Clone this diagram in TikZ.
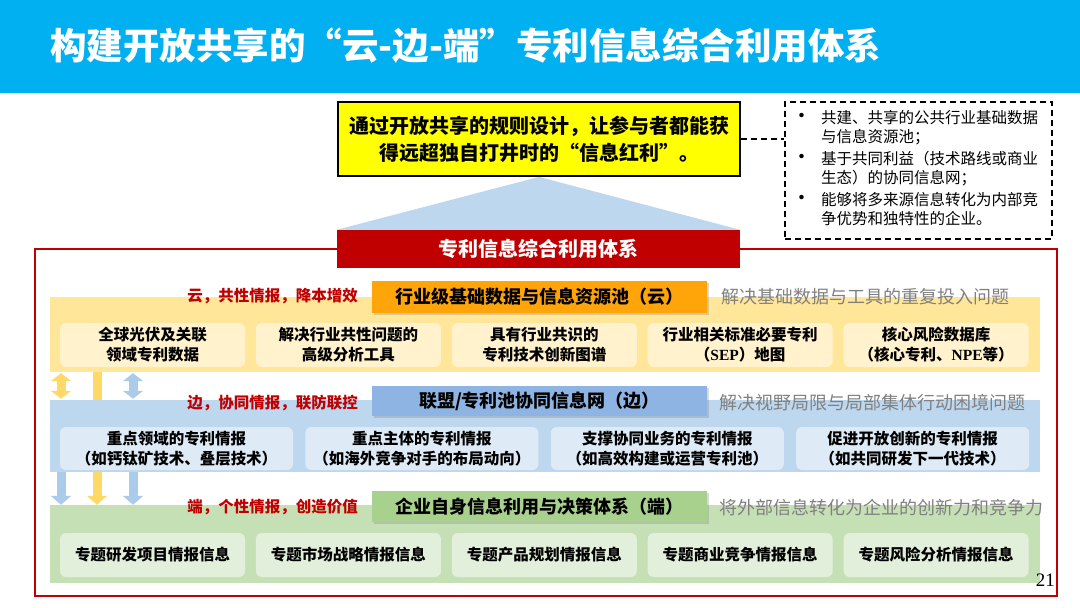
\documentclass[tikz,border=0pt]{standalone}
\usepackage{fontspec}
\setmainfont{Noto Sans CJK SC}
\newfontfamily\latinserif{Liberation Serif}
\usepackage{tikz}
\usetikzlibrary{arrows.meta,positioning,shadows}
\usepackage{xcolor}
\definecolor{titleblue}{RGB}{0,176,240}
\definecolor{bannerred}{RGB}{192,0,0}
\definecolor{goalyellow}{RGB}{255,255,0}
\definecolor{pyramidblue}{RGB}{189,215,238}
\definecolor{cloudfill}{RGB}{255,230,153}
\definecolor{cloudhead}{RGB}{255,165,10}
\definecolor{clouditem}{RGB}{255,242,204}
\definecolor{edgefill}{RGB}{189,215,238}
\definecolor{edgehead}{RGB}{141,180,226}
\definecolor{edgeitem}{RGB}{222,235,247}
\definecolor{endfill}{RGB}{197,224,180}
\definecolor{endhead}{RGB}{169,209,142}
\definecolor{enditem}{RGB}{226,239,218}
\definecolor{hintgray}{RGB}{128,128,128}
\definecolor{arrowgold}{RGB}{255,217,102}
\definecolor{arrowblue}{RGB}{170,203,234}

\begin{document}
\begin{tikzpicture}[x=1pt, y=-1pt,
    band/.style={minimum width=990pt, inner sep=0},
    headbox/.style={minimum width=335pt, inner sep=0, font=\fontsize{18}{22}\selectfont\bfseries,
        drop shadow={shadow xshift=2pt, shadow yshift=-2pt, opacity=0.3}},
    tagtext/.style={anchor=east, inner sep=0, text=bannerred, font=\fontsize{15.5}{18}\selectfont\bfseries},
    hinttext/.style={anchor=west, inner sep=0, text=hintgray, font=\fontsize{18}{22}\selectfont},
    itembox/.style={rounded corners=6pt, minimum height=44pt, inner sep=0, align=center,
        font=\fontsize{15.5}{20}\selectfont\bfseries},
    longdash/.style={line width=1.5pt, dash pattern=on 6pt off 4pt},
    fatarr/.style={line width=9pt, -{Triangle[length=9pt, width=20pt]}},
    fatdouble/.style={line width=9pt, {Triangle[length=8pt, width=20pt]}-{Triangle[length=8pt, width=20pt]}}
]
\useasboundingbox (0,0) rectangle (1080,608);

\node[fill=titleblue, minimum width=1080pt, minimum height=93pt, inner sep=0] (bar) at (540,46.5) {};
\node[anchor=west, inner sep=0, text=white, font=\fontsize{36.5}{40}\selectfont\bfseries] (title) at (50,46)
    {构建开放共享的“云-边-端”专利信息综合利用体系};

\node[draw, line width=1.8pt, fill=goalyellow, minimum width=402pt, minimum height=74pt, align=center,
    font=\fontsize{20}{27}\selectfont\bfseries] (goal) at (539,139)
    {通过开放共享的规则设计，让参与者都能获\\得远超独自打井时的“信息红利”。};
\node[draw, longdash, minimum width=267pt, minimum height=137pt, inner sep=0,
    font=\fontsize{15.5}{19}\selectfont] (note) at (918.5,170.5)
    {\begin{tabular}{@{}l@{}l@{}}
    \makebox[22pt][l]{\hspace{-8pt}\fontsize{21}{19}\selectfont •} & 共建、共享的公共行业基础数据\\
     & 与信息资源池；\\[3pt]
    \makebox[22pt][l]{\hspace{-8pt}\fontsize{21}{19}\selectfont •} & 基于共同利益（技术路线或商业\\
     & 生态）的协同信息网；\\[3pt]
    \makebox[22pt][l]{\hspace{-8pt}\fontsize{21}{19}\selectfont •} & 能够将多来源信息转化为内部竞\\
     & 争优势和独特性的企业。
    \end{tabular}};
\draw[longdash] (goal.east) -- (goal.east -| note.west);

\draw[bannerred, line width=2pt] (35,249) rectangle (1057,596);
\node[fill=bannerred, minimum width=403pt, minimum height=38pt, inner sep=0, text=white,
    font=\fontsize{20}{24}\selectfont\bfseries] (banner) at (538.5,249) {专利信息综合利用体系};
\fill[pyramidblue] (goal.south) -- (banner.north west) -- (banner.north east) -- cycle;

\coordinate (lanea) at (61,0);
\coordinate (laneb) at (97,0);
\coordinate (lanec) at (133,0);

\node[band, fill=cloudfill, minimum height=75pt] (cloud) at (545,334.5) {};
\node[headbox, fill=cloudhead, minimum height=32pt] (cloudhd) at (539.5,297) {行业级基础数据与信息资源池（云）};
\node[tagtext] (cloudtag) at (358,296) {云，共性情报，降本增效};
\node[hinttext] (cloudhint) at (721,297) {解决基础数据与工具的重复投入问题};
\node[itembox, fill=clouditem, minimum width=185pt] (c1) at (152.5,345) {全球光伏及关联\\领域专利数据};
\node[itembox, fill=clouditem, minimum width=185pt, right=10.5pt of c1] (c2) {解决行业共性问题的\\高级分析工具};
\node[itembox, fill=clouditem, minimum width=185pt, right=10.5pt of c2] (c3) {具有行业共识的\\专利技术创新图谱};
\node[itembox, fill=clouditem, minimum width=185pt, right=10.5pt of c3] (c4) {行业相关标准必要专利\\（{\latinserif\bfseries SEP}）地图};
\node[itembox, fill=clouditem, minimum width=185pt, right=10.5pt of c4] (c5) {核心风险数据库\\（核心专利、{\latinserif\bfseries NPE}等）};

\node[band, fill=edgefill, minimum height=72pt] (edge) at (545,436) {};
\draw[fatdouble, arrowgold] ([yshift=-1pt]lanea |- cloud.south) -- ([yshift=1pt]lanea |- edge.north);
\draw[line width=9pt, arrowgold] (laneb |- cloud.south) -- (laneb |- edge.north);
\draw[fatdouble, arrowblue] ([yshift=-1pt]lanec |- cloud.south) -- ([yshift=1pt]lanec |- edge.north);
\node[headbox, fill=edgehead, minimum height=30pt] (edgehd) at (539.5,401) {联盟/专利池协同信息网（边）};
\node[tagtext] (edgetag) at (358,403) {边，协同情报，联防联控};
\node[hinttext] (edgehint) at (719,403) {解决视野局限与局部集体行动困境问题};
\node[itembox, fill=edgeitem, minimum width=233pt, minimum height=43pt] (e1) at (176.5,448.5) {重点领域的专利情报\\（如钙钛矿技术、叠层技术）};
\node[itembox, fill=edgeitem, minimum width=233pt, minimum height=43pt, right=12pt of e1] (e2) {重点主体的专利情报\\（如海外竞争对手的布局动向）};
\node[itembox, fill=edgeitem, minimum width=233pt, minimum height=43pt, right=12pt of e2] (e3) {支撑协同业务的专利情报\\（如高效构建或运营专利池）};
\node[itembox, fill=edgeitem, minimum width=233pt, minimum height=43pt, right=12pt of e3] (e4) {促进开放创新的专利情报\\（如共同研发下一代技术）};

\node[band, fill=endfill, minimum height=78pt] (end) at (545,544) {};
\draw[fatarr, arrowblue] (lanea |- edge.south) -- (lanea |- end.north);
\draw[fatarr, arrowgold] (laneb |- edge.south) -- (laneb |- end.north);
\draw[fatarr, arrowblue] (lanec |- edge.south) -- (lanec |- end.north);
\node[headbox, fill=endhead, minimum height=31pt] (endhd) at (539.5,506.5) {企业自身信息利用与决策体系（端）};
\node[tagtext] (endtag) at (358,507) {端，个性情报，创造价值};
\node[hinttext] (endhint) at (719,508) {将外部信息转化为企业的创新力和竞争力};
\node[itembox, fill=enditem, minimum width=185pt] (t1) at (152.5,555) {专题研发项目情报信息};
\node[itembox, fill=enditem, minimum width=185pt, right=10.5pt of t1] (t2) {专题市场战略情报信息};
\node[itembox, fill=enditem, minimum width=185pt, right=10.5pt of t2] (t3) {专题产品规划情报信息};
\node[itembox, fill=enditem, minimum width=185pt, right=10.5pt of t3] (t4) {专题商业竞争情报信息};
\node[itembox, fill=enditem, minimum width=185pt, right=10.5pt of t4] (t5) {专题风险分析情报信息};

\node[anchor=east, inner sep=0, font=\latinserif\fontsize{19}{20}\selectfont] (pagenum) at (1055,580) {21};
\end{tikzpicture}
\end{document}
